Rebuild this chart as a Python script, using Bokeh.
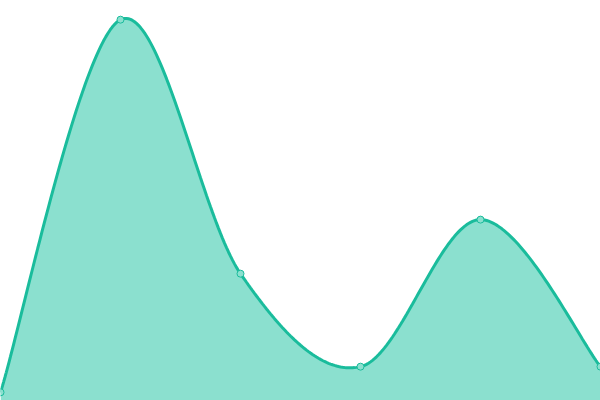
import numpy as np
from bokeh.plotting import figure
from bokeh.embed import file_html
from bokeh.resources import INLINE
from bokeh.models import Range1d

categories = [0, 1, 2, 3, 4, 5]
values = [2.1, 97.9, 32.6, 8.7, 46.5, 8.7]

LINE = "#1abc9c"
FILL = "#8be0cf"

def catmull_rom(xs, ys, n=60):
    xs = np.asarray(xs, float)
    ys = np.asarray(ys, float)
    px = np.concatenate([[xs[0]], xs, [xs[-1]]])
    py = np.concatenate([[ys[0]], ys, [ys[-1]]])
    ox, oy = [], []
    for i in range(1, len(px) - 2):
        t = np.linspace(0, 1, n, endpoint=False)
        m0x = (px[i + 1] - px[i - 1]) / 2
        m1x = (px[i + 2] - px[i]) / 2
        m0y = (py[i + 1] - py[i - 1]) / 2
        m1y = (py[i + 2] - py[i]) / 2
        h00 = 2 * t**3 - 3 * t**2 + 1
        h10 = t**3 - 2 * t**2 + t
        h01 = -2 * t**3 + 3 * t**2
        h11 = t**3 - t**2
        ox.extend(h00 * px[i] + h10 * m0x + h01 * px[i + 1] + h11 * m1x)
        oy.extend(h00 * py[i] + h10 * m0y + h01 * py[i + 1] + h11 * m1y)
    ox.append(xs[-1])
    oy.append(ys[-1])
    return np.array(ox), np.array(oy)

cx, cy = catmull_rom(categories, values)

p = figure(width=600, height=400, output_backend="svg", toolbar_location=None,
           x_range=Range1d(0, 5), y_range=Range1d(0, 100 * 400 / 389),
           min_border=0, outline_line_color=None)
p.axis.visible = False
p.grid.visible = False
p.background_fill_color = "white"
p.border_fill_color = "white"

p.varea(x=cx, y1=np.zeros_like(cy), y2=cy, fill_color=FILL, fill_alpha=1.0)
p.line(cx, cy, line_color=LINE, line_width=3)
p.scatter(categories, values, size=7, fill_color=FILL, line_color=LINE, line_width=1)

open("out.html", "w").write(file_html(p, INLINE))
